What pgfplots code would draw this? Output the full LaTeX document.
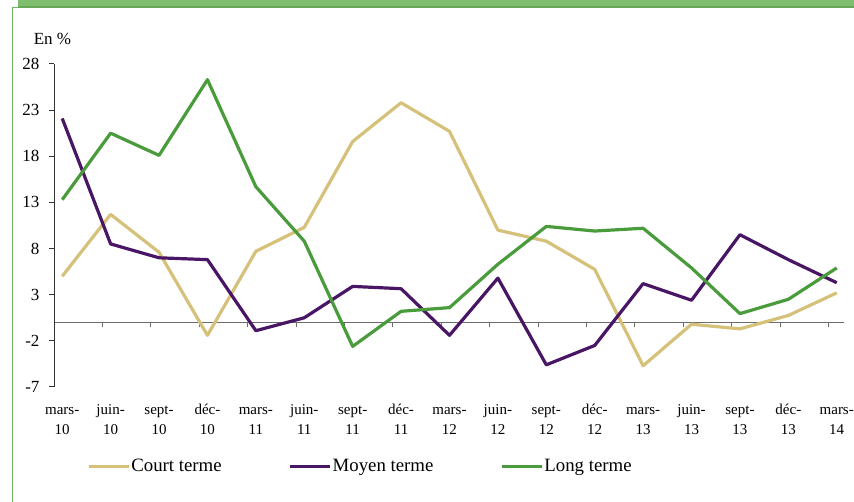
\documentclass[border=0pt]{standalone}
\usepackage{fontspec}
\setmainfont{Liberation Serif}
\usepackage{pgfplots}
\pgfplotsset{compat=1.18}
\definecolor{ctan}{RGB}{214,193,122}
\definecolor{cpur}{RGB}{72,22,100}
\definecolor{cgrn}{RGB}{74,155,60}
\definecolor{cbar}{RGB}{126,190,110}
\definecolor{cbar2}{RGB}{102,168,88}
\definecolor{cleft}{RGB}{112,184,96}
\newcommand{\tl}[2]{\strut #1\\#2}
\begin{document}
\begin{tikzpicture}
\useasboundingbox (0,0) rectangle (854pt,502pt);
\fill[cbar] (18pt,494pt) rectangle (854pt,502pt);
\fill[cbar2] (18pt,494pt) rectangle (854pt,495.5pt);
\draw[cleft, line width=1pt] (12pt,0pt) -- (12pt,494pt) -- (18pt,494pt);
\node[font=\fontsize{17}{20}\selectfont] at (52.5pt,463pt) {En \%};
\begin{axis}[
  at={(54pt,115pt)}, anchor=south west,
  scale only axis, width=790pt, height=323pt,
  xmin=-0.17, xmax=16.15, ymin=-7, ymax=28,
  axis x line*=middle, axis y line*=left,
  hide obscured x ticks=false,
  x axis line style={draw=gray!85!black, line width=1pt},
  y axis line style={draw=black!80, line width=1pt},
  xtick={0,...,16},
  xticklabels={{\tl{mars-}{10}},{\tl{juin-}{10}},{\tl{sept-}{10}},{\tl{déc-}{10}},{\tl{mars-}{11}},{\tl{juin-}{11}},{\tl{sept-}{11}},{\tl{déc-}{11}},{\tl{mars-}{12}},{\tl{juin-}{12}},{\tl{sept-}{12}},{\tl{déc-}{12}},{\tl{mars-}{13}},{\tl{juin-}{13}},{\tl{sept-}{13}},{\tl{déc-}{13}},{\tl{mars-}{14}}},
  minor xtick={0.83,1.83,2.83,3.83,4.83,5.83,6.83,7.83,8.83,9.83,10.83,11.83,12.83,13.83,14.83,15.83},
  major x tick style={draw=none},
  minor x tick style={draw=gray!85!black, line width=1pt},
  ytick={-7,-2,3,8,13,18,23,28},
  yticklabels={-7,-2,3,8,13,18,23,28},
  y tick style={draw=black!80, line width=1pt},
  tick align=outside,
  major tick length=5pt, minor tick length=5pt,
  xticklabel style={align=center, font=\fontsize{15}{20}\selectfont, anchor=north, yshift=-70pt},
  yticklabel style={font=\fontsize{17}{20}\selectfont, xshift=-6pt},
  legend columns=3,
  legend style={at={(axis description cs:0.042,-0.2446)}, anchor=west, draw=none, fill=none,
    inner sep=0pt, font=\fontsize{18.8}{20}\selectfont,
    nodes={inner sep=1pt},
    /tikz/every even column/.append style={column sep=66pt}},
  legend image code/.code={\draw[#1, line width=3pt] (0pt,0pt) -- (40pt,0pt);},
  every axis plot/.append style={line width=3.2pt, line join=round},
]
\addplot[color=ctan, mark=none] coordinates {
(0,5.0) (1,11.7) (2,7.6) (3,-1.4) (4,7.7) (5,10.3) (6,19.6) (7,23.8) (8,20.7)
(9,10.0) (10,8.8) (11,5.75) (12,-4.7) (13,-0.2) (14,-0.7) (15,0.75) (16,3.2)};
\addlegendentry{Court terme}
\addplot[color=cpur, mark=none] coordinates {
(0,22.1) (1,8.5) (2,7.0) (3,6.8) (4,-0.9) (5,0.5) (6,3.9) (7,3.65) (8,-1.4)
(9,4.8) (10,-4.6) (11,-2.5) (12,4.2) (13,2.4) (14,9.5) (15,6.8) (16,4.3)};
\addlegendentry{Moyen terme}
\addplot[color=cgrn, mark=none] coordinates {
(0,13.3) (1,20.5) (2,18.1) (3,26.3) (4,14.7) (5,8.8) (6,-2.6) (7,1.2) (8,1.6)
(9,6.3) (10,10.4) (11,9.9) (12,10.2) (13,5.9) (14,0.95) (15,2.5) (16,5.9)};
\addlegendentry{Long terme}
\end{axis}
\end{tikzpicture}
\end{document}
